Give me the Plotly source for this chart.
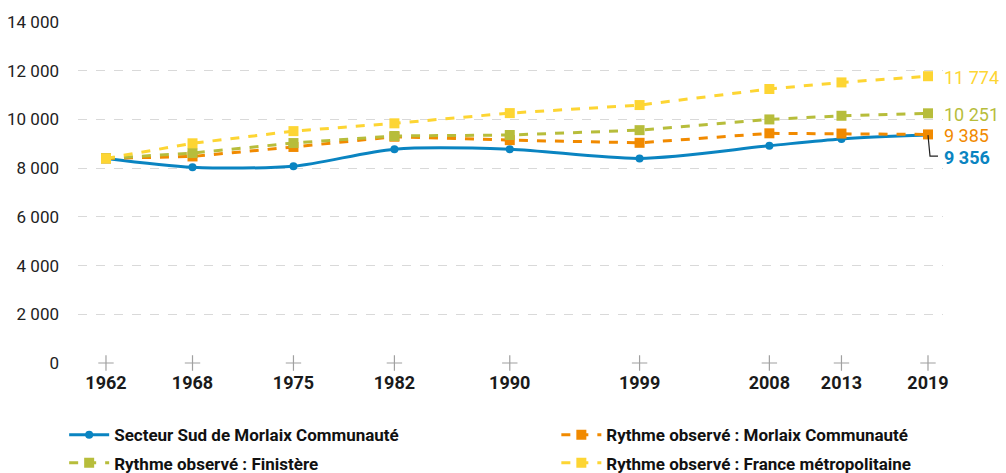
import plotly.graph_objects as go

years = [1962, 1968, 1975, 1982, 1990, 1999, 2008, 2013, 2019]
secteur_sud = [8400, 8040, 8080, 8780, 8780, 8400, 8920, 9200, 9356]
morlaix_co = [8400, 8480, 8870, 9290, 9150, 9040, 9430, 9420, 9385]
finistere = [8400, 8620, 9030, 9320, 9360, 9560, 10000, 10150, 10251]
france = [8400, 9020, 9520, 9840, 10260, 10590, 11250, 11520, 11774]

y_ticks = [0, 2000, 4000, 6000, 8000, 10000, 12000, 14000]
y_labels = ["0", "2 000", "4 000", "6 000", "8 000", "10 000", "12 000", "14 000"]

BLUE = "#0a84c1"
ORANGE = "#f18a00"
GREEN = "#b7bd3b"
YELLOW = "#fdd533"
FONT = "Roboto"

fig = go.Figure()

# croix grises sur l'axe des abscisses
fig.add_trace(go.Scatter(
    x=years, y=[0] * len(years), mode="markers",
    marker=dict(symbol="cross-thin", size=11, line=dict(color="#a0a0a0", width=1.2)),
    showlegend=False, hoverinfo="skip", cliponaxis=False,
))

fig.add_trace(go.Scatter(
    x=years, y=secteur_sud, mode="lines+markers", name="Secteur Sud de Morlaix Communauté",
    line=dict(color=BLUE, width=3, shape="spline", smoothing=0.8),
    marker=dict(symbol="circle", size=8, color=BLUE),
    legend="legend", legendgroup="a",
))
fig.add_trace(go.Scatter(
    x=years, y=morlaix_co, mode="lines+markers", name="Rythme observé : Morlaix Communauté",
    line=dict(color=ORANGE, width=3, dash="dash"),
    marker=dict(symbol="square", size=10, color=ORANGE),
    legend="legend2", legendgroup="b",
))
fig.add_trace(go.Scatter(
    x=years, y=finistere, mode="lines+markers", name="Rythme observé : Finistère",
    line=dict(color=GREEN, width=3, dash="dash"),
    marker=dict(symbol="square", size=10, color=GREEN),
    legend="legend", legendgroup="c",
))
fig.add_trace(go.Scatter(
    x=years, y=france, mode="lines+markers", name="Rythme observé : France métropolitaine",
    line=dict(color=YELLOW, width=3, dash="dash"),
    marker=dict(symbol="square", size=10, color=YELLOW),
    legend="legend2", legendgroup="d",
))

# étiquettes de fin de série
ends = [
    (france[-1], "11 774", YELLOW, 0),
    (finistere[-1], "10 251", GREEN, 0),
    (morlaix_co[-1], "9 385", ORANGE, 0),
    (secteur_sud[-1], "<b>9 356</b>", BLUE, 21),
]
for val, txt, col, dy in ends:
    fig.add_annotation(
        x=years[-1], y=val, xref="x", yref="y", text=txt, showarrow=False,
        xanchor="left", yanchor="middle", xshift=14, yshift=-dy - 1,
        font=dict(family=FONT, size=18, color=col),
    )

# trait de rappel pour 9 356
fig.add_shape(
    type="path", xref="x", yref="y", xsizemode="pixel", ysizemode="pixel",
    xanchor=years[-1], yanchor=secteur_sud[-1],
    path="M 0 0 L 2 -21 L 10 -21",
    line=dict(color="#222222", width=1.2),
)

legend_style = dict(
    orientation="v", xanchor="left", yanchor="top", y=-0.159,
    tracegroupgap=3, itemwidth=40, bgcolor="rgba(0,0,0,0)",
    font=dict(family=FONT, size=17, color="#111111", weight="bold"),
)

fig.update_layout(
    width=1006, height=473,
    margin=dict(l=78, r=63, t=22, b=110, autoexpand=False),
    plot_bgcolor="white", paper_bgcolor="white",
    font=dict(family=FONT, color="#222222"),
    xaxis=dict(
        range=[1960.06, 2020.04], tickmode="array", tickvals=years,
        ticktext=[f"<b>{y}</b>" for y in years],
        showgrid=False, zeroline=False, showline=False, ticks="",
        ticklabelstandoff=7,
        tickfont=dict(size=18, color="#1a1a1a"),
    ),
    yaxis=dict(
        range=[0, 14000], tickmode="array", tickvals=y_ticks, ticktext=y_labels,
        showgrid=True, gridcolor="#d9d9d9", griddash="dash", gridwidth=1,
        zeroline=False, showline=False, ticks="", ticklabelstandoff=18,
        tickfont=dict(size=17, color="#222222"),
    ),
    legend=dict(x=-0.016, **legend_style),
    legend2=dict(x=0.553, **legend_style),
)

fig.write_html("out.html", config={"displayModeBar": False},
               post_script="document.body.style.margin='0';")
